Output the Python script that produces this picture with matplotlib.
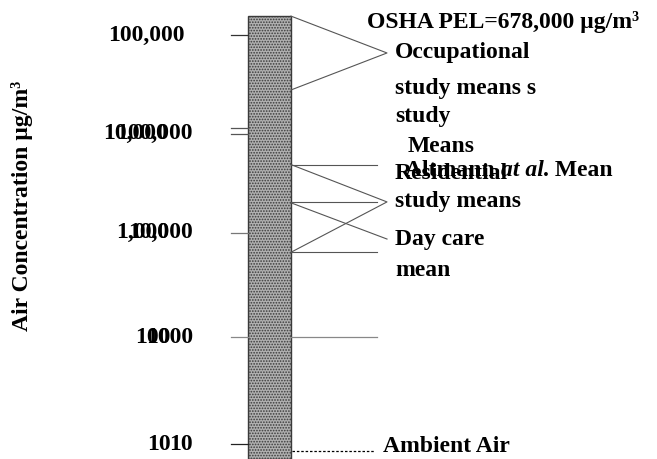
import matplotlib.pyplot as plt

plt.rcParams['font.family'] = ['Liberation Serif', 'DejaVu Serif']
plt.rcParams['font.weight'] = 'bold'
plt.rcParams['hatch.color'] = '#5e5e5e'
plt.rcParams['hatch.linewidth'] = 0.8

# valores (µg/m3)
bar_range = (7.1, 153000)
occupational = (29000, 153000)
occupational_point = 66700
residential = (5400, 750)
residential_point = 2330
altmann_mean = 2330
daycare_point = 1010
other_line = 110
ambient = 8.5

tick_vals = [100000, 12300, 10800, 1160, 110, 10]
tick_colors = ['#333333', '#555555', '#555555', '#777777', '#888888', '#222222']
label_vals = [100000, 11000, 1160, 109, 9.8]
left_labels = ['', '10,000', '1,000', '100', '10']
right_labels = ['100,000', '100,000', '10,000', '1000', '10']
left_x = [0, 103, 116, 135, 147]
right_x = [185, 193, 193, 193, 193]

FS = 17

fig = plt.figure(figsize=(6.57, 4.59), dpi=100)
ax = fig.add_axes([0, 0, 1, 1])
ax.set_yscale('log')
ax.set_xlim(0, 657)
ax.set_ylim(7.13, 219900)
ax.axis('off')

# barra principal
ax.bar(269.5, bar_range[1] - bar_range[0], bottom=bar_range[0], width=43,
       color='#b0b0b0', edgecolor='#3a3a3a', linewidth=1.0, hatch='......')

# ticks à esquerda
for v, c in zip(tick_vals, tick_colors):
    ax.plot([231, 248], [v, v], color=c, lw=0.9)

for v, l, x in zip(label_vals, left_labels, left_x):
    if l:
        ax.text(x, v, l, ha='left', va='center', fontsize=FS)
for v, r, x in zip(label_vals, right_labels, right_x):
    ax.text(x, v, r, ha='right', va='center', fontsize=FS)

# linhas horizontais à direita
for v in [residential[0], altmann_mean, residential[1]]:
    ax.plot([291, 377], [v, v], color='#555555', lw=0.8)
ax.plot([291, 377], [other_line, other_line], color='#888888', lw=0.9)
ax.plot([292, 375], [ambient, ambient], color='black', lw=0.9, ls=(0, (2, 1.5)))

# colchetes
ax.plot([291, 387, 291], [occupational[1], occupational_point, occupational[0]],
        color='#555555', lw=0.8)
ax.plot([291, 387, 291], [residential[0], residential_point, residential[1]],
        color='#555555', lw=0.8)
ax.plot([291, 387], [altmann_mean * 0.98, daycare_point], color='#555555', lw=0.8)

# textos
ax.text(367, 134000, 'OSHA PEL=678,000 µg/m³', ha='left', va='center', fontsize=FS)
ax.text(395, 66700, 'Occupational', ha='left', va='center', fontsize=FS)
ax.text(395, 30300, 'study means s', ha='left', va='center', fontsize=FS)
ax.text(395, 15800, 'study', ha='left', va='center', fontsize=FS)
ax.text(408, 8030, 'Means', ha='left', va='center', fontsize=FS)
t1 = ax.text(405, 4780, 'Altmann ', ha='left', va='center', fontsize=FS)
t2 = ax.annotate('at al.', xy=(1, 0), xycoords=t1, ha='left', va='bottom',
                 fontsize=FS, style='italic')
ax.annotate(' Mean', xy=(1, 0), xycoords=t2, ha='left', va='bottom', fontsize=FS)
ax.text(395, 4370, 'Residential', ha='left', va='center', fontsize=FS)
ax.text(395, 2330, 'study means', ha='left', va='center', fontsize=FS)
ax.text(395, 1010, 'Day care', ha='left', va='center', fontsize=FS)
ax.text(395, 492, 'mean', ha='left', va='center', fontsize=FS)
ax.text(383, 9.55, 'Ambient Air', ha='left', va='center', fontsize=FS)

ax.text(22, 2126, 'Air Concentration µg/m³', rotation=90, ha='center', va='center',
        fontsize=FS)

fig.savefig('out.png', dpi=100)
